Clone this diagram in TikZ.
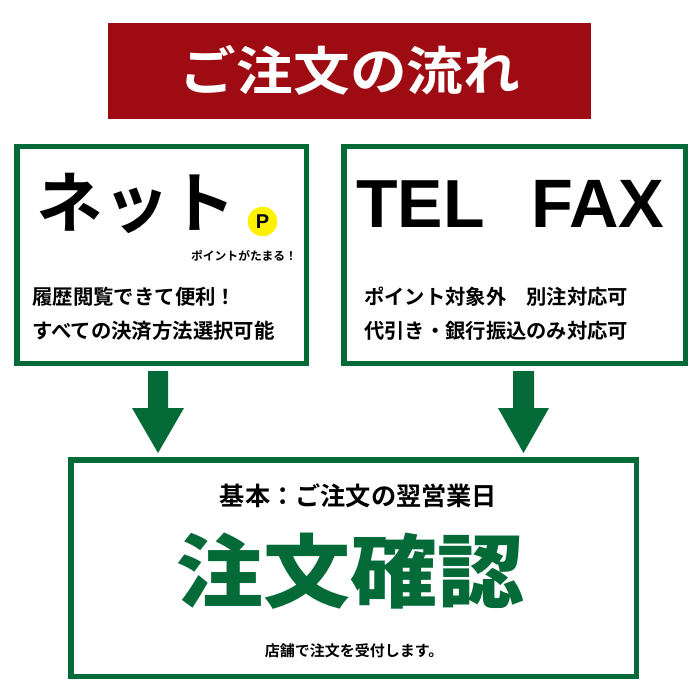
\documentclass[tikz,border=0pt]{standalone}
\usepackage{fontspec}
\newfontfamily\jpb{Noto Sans CJK JP Bold}
\newfontfamily\jpk{Noto Sans CJK JP Black}
\newfontfamily\lsb{Liberation Sans Bold}
\definecolor{gr}{HTML}{046B38}
\definecolor{rd}{HTML}{9E0B12}
\tikzset{
 boxg/.style={draw=gr,line width=5.6pt,fill=white,inner sep=0},
 txt/.style={inner sep=0,font=\jpb,text=black},
 arr/.style={fill=gr,draw=none}
}
\newcommand{\fs}[1]{\fontsize{#1}{#1}\selectfont}
\begin{document}
\begin{tikzpicture}[x=1pt,y=-1pt]
\useasboundingbox (0,0) rectangle (700,700);
\fill[white] (0,0) rectangle (700,700);
\node[fill=rd,minimum width=483pt,minimum height=96pt,inner sep=0] (title) at (349.5,71) {};
\node[txt,text=white] (tt) at (350,70.5) {\scalebox{1}[0.92]{\fs{56.7}ご注文の流れ}};
\draw[boxg] (16.8,146.5) rectangle (306.5,363.5);
\draw[boxg] (343.8,146.5) rectangle (685.5,363.5);
\draw[boxg] (70.8,460) rectangle (636.5,676.5);
\node[txt] (net) at (136.5,203) {\fs{66.5}ネット};
\node[circle,fill=yellow,minimum size=29.5pt,inner sep=0] (p) at (262.5,221.5) {};
\node[txt,font=\lsb] (pp) at (262.5,221.5) {\fs{20}P};
\node[txt] (pt) at (244,256) {\fs{11.8}ポイントがたまる！};
\node[txt,anchor=west] (l1) at (32,297) {\fs{20.4}履歴閲覧できて便利！};
\node[txt,anchor=west] (l2) at (32,331) {\fs{20.4}すべての決済方法選択可能};
\node[txt,anchor=west,font=\lsb] (tel) at (356,204) {\fs{68}TEL};
\node[txt,anchor=west,font=\lsb] (fax) at (531,204) {\fs{68.5}FAX};
\node[txt,anchor=west] (r1) at (364,297) {\fs{20.3}ポイント対象外　別注対応可};
\node[txt,anchor=west] (r2) at (364,331) {\fs{20.3}代引き・銀行振込のみ対応可};
\node[txt] (b1) at (358.5,496) {\fs{25.2}基本：ご注文の翌営業日};
\node[txt,text=gr,font=\jpk] (b2) at (350,571) {\scalebox{1}[0.92]{\fs{87}注文確認}};
\node[txt] (b3) at (354,651) {\fs{15}店舗で注文を受付します。};
\path[arr] (148,371) -- (168,371) -- (168,408) -- (184,408) -- (158,453) -- (132,408) -- (148,408) -- cycle;
\path[arr] (513,371) -- (534,371) -- (534,408) -- (549,408) -- (523.5,453) -- (498,408) -- (513,408) -- cycle;
\end{tikzpicture}
\end{document}
